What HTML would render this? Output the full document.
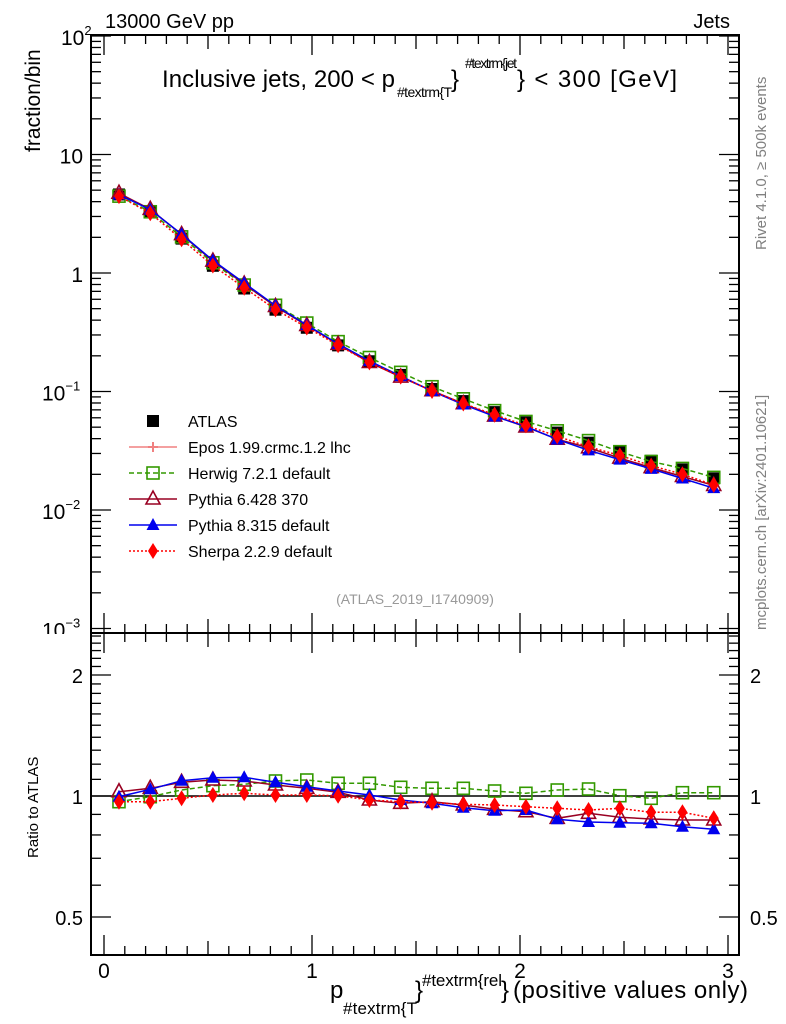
<!DOCTYPE html>
<html><head><meta charset="utf-8"><style>
html,body{margin:0;padding:0;background:#fff;}
svg{display:block;font-family:"Liberation Sans",sans-serif;}
</style></head><body>
<svg id="s" width="786" height="1024" viewBox="0 0 786 1024" xmlns="http://www.w3.org/2000/svg">
<rect width="786" height="1024" fill="#fff"/>
<g id="g"></g>
<text x="105" y="28" font-size="20">13000 GeV pp</text>
<text x="730" y="28" font-size="20" text-anchor="end">Jets</text>
<text x="162" y="87" font-size="24" textLength="233">Inclusive jets, 200 &lt; p</text>
<text x="397" y="97" font-size="14" textLength="55">#textrm{T</text>
<text x="451" y="87" font-size="24">}</text>
<text x="465" y="68" font-size="14" textLength="52">#textrm{jet</text>
<text x="517" y="87" font-size="24" textLength="160">} &lt; 300 [GeV]</text>
<text transform="translate(40,152) rotate(-90)" font-size="21">fraction/bin</text>
<text transform="translate(766,250) rotate(-90)" font-size="15" fill="#808080">Rivet 4.1.0, ≥ 500k events</text>
<text transform="translate(766,630) rotate(-90)" font-size="15" fill="#808080">mcplots.cern.ch [arXiv:2401.10621]</text>
<text x="415" y="604" font-size="14" fill="#999" text-anchor="middle">(ATLAS_2019_I1740909)</text>
<text transform="translate(38,858) rotate(-90)" font-size="15">Ratio to ATLAS</text>
<text x="330" y="998" font-size="24">p</text>
<text x="343" y="1014" font-size="17" textLength="74">#textrm{T</text>
<text x="415" y="998" font-size="24">}</text>
<text x="422" y="986" font-size="17" textLength="80">#textrm{rel</text>
<text x="501" y="998" font-size="24">}</text>
<text x="513" y="998" font-size="24" textLength="235">(positive values only)</text>
</svg>
<script>
const NS="http://www.w3.org/2000/svg",g=document.getElementById('g');
function el(t,a,txt){const e=document.createElementNS(NS,t);for(const k in a)e.setAttribute(k,a[k]);if(txt!==undefined)e.textContent=txt;g.appendChild(e);return e;}
const L=91,R=739,T=35,MB=633,RB=955;
const X=v=>104+208*v;
const Y=v=>273-118.5*Math.log10(v);
const YR=r=>796-402*Math.log10(r);
const lab=[[100,'10','2'],[10,'10',''],[1,'1',''],[0.1,'10','−1'],[0.01,'10','−2'],[0.001,'10','−3']];
for(const [v,b,s] of lab){const t=el('text',{x:s?(s.length>1?42:61):83,y:Y(v)+9,'font-size':21,'text-anchor':s?'start':'end'});t.textContent=b;
 if(s){const ts=document.createElementNS(NS,'tspan');ts.setAttribute('font-size',13);ts.setAttribute('dy',-10);ts.textContent=s;t.appendChild(ts);}}
el('rect',{x:40,y:634,width:52,height:8,fill:'#fff'});
el('rect',{x:L,y:T,width:R-L,height:MB-T,fill:'none',stroke:'#000','stroke-width':2});
el('rect',{x:L,y:MB,width:R-L,height:RB-MB,fill:'none',stroke:'#000','stroke-width':2});
for(let i=0;i<=30;i++){const v=i/10,x=X(v);if(x>R)break;let len=i%10==0?20:(i%5==0?14:9);
 for(const [y0,d] of [[T,1],[MB,-1],[MB,1],[RB,-1]]) el('line',{x1:x,y1:y0,x2:x,y2:y0+d*len,stroke:'#000','stroke-width':1.3});}
for(let e=-3;e<2;e++){for(let m=1;m<10;m++){const v=m*Math.pow(10,e),y=Y(v);if(y<T||y>MB)continue;const len=m==1?20:10;
 el('line',{x1:L,y1:y,x2:L+len,y2:y,stroke:'#000','stroke-width':1.3});el('line',{x1:R,y1:y,x2:R-len,y2:y,stroke:'#000','stroke-width':1.3});}}
el('line',{x1:L,y1:Y(100),x2:L+20,y2:Y(100),stroke:'#000','stroke-width':1.3});
el('line',{x1:R,y1:Y(100),x2:R-20,y2:Y(100),stroke:'#000','stroke-width':1.3});
for(let r=0.4;r<2.6;r+=0.1){const rr=Math.round(r*10)/10;const y=YR(rr);if(y<MB||y>RB)continue;const major=(rr==0.5||rr==1||rr==2);const len=major?20:10;
 el('line',{x1:L,y1:y,x2:L+len,y2:y,stroke:'#000','stroke-width':1.3});el('line',{x1:R,y1:y,x2:R-len,y2:y,stroke:'#000','stroke-width':1.3});}
for(const [r,t] of [[2,'2'],[1,'1'],[0.5,'0.5']]){el('text',{x:83,y:YR(r)+8,'font-size':20,'text-anchor':'end'},t);el('text',{x:750,y:YR(r)+8,'font-size':20},t);}
el('line',{x1:L,y1:796,x2:R,y2:796,stroke:'#000','stroke-width':1.5});
for(const [v,t] of [[0,'0'],[1,'1'],[2,'2'],[3,'3']]) el('text',{x:X(v),y:978,'font-size':21,'text-anchor':'middle'},t);
const xs=[];for(let i=0;i<20;i++)xs.push(0.072+0.1505*i);
const atlas=[4.6,3.3,1.95,1.15,0.74,0.49,0.345,0.245,0.18,0.138,0.105,0.083,0.067,0.055,0.045,0.037,0.031,0.026,0.022,0.0185];
const rr=ys=>ys.map(y=>Math.pow(10,(796-y)/402));
const her=rr([801.7,796.7,790,785.7,784.3,781,780,783.3,783.3,787.3,788.3,788.3,791,793.3,790,789,795.7,798.3,792.7,792.7]);
const py8=rr([796.7,789.3,780.7,777.7,777.3,782.3,786.7,791,795,800,803.3,807.7,810.7,810,819.3,822,822.7,823.3,826.7,829.3]);
const py6=rr([791.7,788.3,782.3,780,781,785,788.3,792.3,800,803.3,801.7,805,809.3,811.7,818.3,813.3,817.3,819,820,820]);
const she=rr([801.7,801.7,798.3,795,793.3,795,795,795.7,800,801.7,802.7,804.3,805,806.7,808.3,810,808.3,812.3,812.3,818.3]);
function line(pts,col,dash,w){el('polyline',{points:pts.map(p=>p.join(',')).join(' '),fill:'none',stroke:col,'stroke-width':w||1.5,'stroke-dasharray':dash||'none'});}
function mk(type,x,y,col){
 if(type=='sq')el('rect',{x:x-6,y:y-6,width:12,height:12,fill:'#000'});
 if(type=='osq')el('rect',{x:x-6,y:y-6,width:12,height:12,fill:'none',stroke:col,'stroke-width':1.6});
 if(type=='otri')el('polygon',{points:`${x},${y-8} ${x-7},${y+5} ${x+7},${y+5}`,fill:'none',stroke:col,'stroke-width':1.6});
 if(type=='tri')el('polygon',{points:`${x},${y-7} ${x-6.5},${y+5} ${x+6.5},${y+5}`,fill:col});
 if(type=='dia')el('polygon',{points:`${x},${y-8} ${x-5},${y} ${x},${y+8} ${x+5},${y}`,fill:col});
 if(type=='cross'){el('line',{x1:x-5,y1:y,x2:x+5,y2:y,stroke:col,'stroke-width':2});el('line',{x1:x,y1:y-5,x2:x,y2:y+5,stroke:col,'stroke-width':2});}
}
const series=[[her,'#339900','5,3','osq'],[py6,'#990022','','otri'],[py8,'#0000ee','','tri'],[she,'#ff0000','2,2','dia']];
xs.forEach((x,i)=>mk('sq',X(x),Y(atlas[i])));
for(const [r,c,d,m] of series){const pts=xs.map((x,i)=>[X(x),Y(atlas[i]*r[i])]);line(pts,c,d);pts.forEach(p=>mk(m,p[0],p[1],c));}
for(const [r,c,d,m] of series){const pts=xs.map((x,i)=>[X(x),YR(r[i])]);line(pts,c,d);pts.forEach(p=>mk(m,p[0],p[1],c));}
const leg=[['sq','#000','','ATLAS'],['cross','#f08080','','Epos 1.99.crmc.1.2 lhc'],['osq','#339900','5,3','Herwig 7.2.1 default'],['otri','#990022','','Pythia 6.428 370'],['tri','#0000ee','','Pythia 8.315 default'],['dia','#ff0000','2,2','Sherpa 2.2.9 default']];
leg.forEach((l,i)=>{const y=421+26*i;if(i>0)line([[129,y],[177,y]],l[1],l[2]);mk(l[0],153,y,l[1]);el('text',{x:188,y:y+6,'font-size':16},l[3]);});
</script>
</body></html>
